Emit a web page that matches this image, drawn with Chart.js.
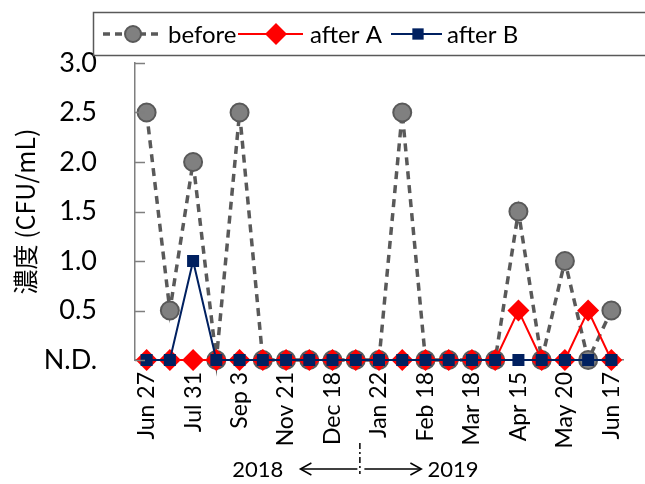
<!DOCTYPE html>
<html>
<head>
<meta charset="utf-8">
<script src="https://cdn.jsdelivr.net/npm/chart.js@4/dist/chart.umd.min.js"></script>
<style>
  html, body { margin: 0; padding: 0; background: #fff; }
  #wrap { width: 645px; height: 484px; position: relative; }
</style>
</head>
<body>
<div id="wrap"><canvas id="c" width="645" height="484"></canvas></div>
<script>
// ---- data ----
const categories = ["Jun 27","","Jul 31","","Sep 3","","Nov 21","","Dec 18","","Jan 22","","Feb 18","","Mar 18","","Apr 15","","May 20","","Jun 17"];
const seriesNames = ["before","after A","after B"];
const beforeValues = [2.5,0.5,2.0,0,2.5,0,0,0,0,0,0,2.5,0,0,0,0,1.5,0,1.0,0,0.5];
const afterAValues = [0,0,0,0,0,0,0,0,0,0,0,0,0,0,0,0,0.5,0,0,0.5,0];
const afterBValues = [0,0,1.0,0,0,0,0,0,0,0,0,0,0,0,0,0,0,0,0,0,0];
const yTickLabels = ["N.D.","0.5","1.0","1.5","2.0","2.5","3.0"];
const yAxisTitle = "濃度 (CFU/mL)";
const yearLabels = ["2018","2019"];

const FONT = "Lato, 'Liberation Sans', sans-serif";
const GREY_LINE = "#595959";
const GREY_FILL = "#808080";
const RED = "#ff0000";
const NAVY = "#002060";

function drawMarker(ctx, style, x, y, r, fill, stroke, bw) {
  ctx.save();
  ctx.beginPath();
  if (style === 'circle') {
    ctx.arc(x, y, r, 0, Math.PI * 2);
  } else if (style === 'rectRot') {
    ctx.moveTo(x - r, y); ctx.lineTo(x, y - r); ctx.lineTo(x + r, y); ctx.lineTo(x, y + r); ctx.closePath();
  } else {
    const s = Math.SQRT1_2 * r;
    ctx.rect(x - s, y - s, 2 * s, 2 * s);
  }
  ctx.fillStyle = fill; ctx.fill();
  if (bw) { ctx.lineWidth = bw; ctx.strokeStyle = stroke; ctx.stroke(); }
  ctx.restore();
}

const extras = {
  id: 'extras',
  afterDraw(chart) {
    const ctx = chart.ctx;
    const y = chart.scales.y;
    const x = chart.scales.x;
    // inward y ticks
    ctx.save();
    ctx.strokeStyle = "#7f7f7f";
    ctx.lineWidth = 1.5;
    for (let i = 0; i < yTickLabels.length; i++) {
      const py = Math.round(y.getPixelForValue(i * 0.5)) + 0.5;
      ctx.beginPath(); ctx.moveTo(y.right, py); ctx.lineTo(y.right + 10, py); ctx.stroke();
    }
    ctx.restore();

    // legend box
    ctx.save();
    ctx.strokeStyle = "#595959";
    ctx.lineWidth = 1.5;
    ctx.strokeRect(93.5, 12.5, 600, 43);
    const ly = 34;
    ctx.font = "24px " + FONT;
    ctx.fillStyle = "#000";
    ctx.textBaseline = "middle";
    // before
    ctx.strokeStyle = GREY_LINE; ctx.lineWidth = 3.5; ctx.setLineDash([7, 5]);
    ctx.beginPath(); ctx.moveTo(103, ly); ctx.lineTo(163, ly); ctx.stroke();
    ctx.setLineDash([]);
    drawMarker(ctx, 'circle', 133, ly, 8, GREY_FILL, GREY_LINE, 2);
    ctx.fillText(seriesNames[0], 168, ly + 1);
    // after A
    ctx.strokeStyle = RED; ctx.lineWidth = 2;
    ctx.beginPath(); ctx.moveTo(238, ly); ctx.lineTo(303, ly); ctx.stroke();
    drawMarker(ctx, 'rectRot', 276, ly, 11, RED, RED, 0);
    ctx.fillText(seriesNames[1], 310, ly + 1);
    // after B
    ctx.strokeStyle = NAVY; ctx.lineWidth = 2;
    ctx.beginPath(); ctx.moveTo(391, ly); ctx.lineTo(442, ly); ctx.stroke();
    drawMarker(ctx, 'rect', 418, ly, 8, NAVY, NAVY, 0);
    ctx.fillText(seriesNames[2], 447, ly + 1);
    ctx.restore();

    // year annotation
    const sepX = (x.getPixelForValue(9) + x.getPixelForValue(10)) / 2 - 8;
    ctx.save();
    ctx.font = "22px " + FONT;
    ctx.fillStyle = "#000";
    ctx.textBaseline = "middle";
    ctx.textAlign = "right";
    ctx.fillText(yearLabels[0], sepX - 76, 470);
    ctx.textAlign = "left";
    ctx.fillText(yearLabels[1], sepX + 68, 470);
    ctx.strokeStyle = "#000"; ctx.lineWidth = 1.5;
    const ay = 469;
    // left arrow
    ctx.beginPath(); ctx.moveTo(sepX - 2, ay); ctx.lineTo(sepX - 58, ay); ctx.stroke();
    ctx.beginPath(); ctx.moveTo(sepX - 48, ay - 6); ctx.lineTo(sepX - 59, ay); ctx.lineTo(sepX - 48, ay + 6); ctx.stroke();
    // right arrow
    ctx.beginPath(); ctx.moveTo(sepX + 5, ay); ctx.lineTo(sepX + 61, ay); ctx.stroke();
    ctx.beginPath(); ctx.moveTo(sepX + 51, ay - 6); ctx.lineTo(sepX + 62, ay); ctx.lineTo(sepX + 51, ay + 6); ctx.stroke();
    // dash-dot separator
    ctx.setLineDash([6, 3, 2, 3]);
    ctx.beginPath(); ctx.moveTo(sepX + 0.5, 443); ctx.lineTo(sepX + 0.5, 474); ctx.stroke();
    ctx.restore();
  }
};

new Chart(document.getElementById('c'), {
  type: 'line',
  data: {
    labels: categories,
    datasets: [
      {
        label: seriesNames[0], data: beforeValues, order: 3, clip: false,
        borderColor: GREY_LINE, borderWidth: 3.5, borderDash: [8, 6],
        pointStyle: 'circle', pointRadius: 9, pointBackgroundColor: GREY_FILL,
        pointBorderColor: GREY_LINE, pointBorderWidth: 2, tension: 0
      },
      {
        label: seriesNames[1], data: afterAValues, order: 2, clip: false,
        borderColor: RED, borderWidth: 2,
        pointStyle: 'rectRot', pointRadius: 11, pointBackgroundColor: RED,
        pointBorderColor: RED, pointBorderWidth: 0, tension: 0
      },
      {
        label: seriesNames[2], data: afterBValues, order: 1, clip: false,
        borderColor: NAVY, borderWidth: 2,
        pointStyle: 'rect', pointRadius: 8.5, pointBackgroundColor: NAVY,
        pointBorderColor: NAVY, pointBorderWidth: 0, tension: 0
      }
    ]
  },
  options: {
    responsive: false,
    animation: false,
    events: [],
    layout: { padding: { top: 63, right: 22, left: 0, bottom: 0 } },
    plugins: { legend: { display: false }, tooltip: { enabled: false } },
    scales: {
      x: {
        offset: true,
        grid: { display: false, drawTicks: false },
        border: { display: true, color: "#7f7f7f", width: 1.5 },
        afterFit(scale) { scale.height = 124; scale.paddingRight = 0; scale.paddingLeft = 0; },
        ticks: {
          autoSkip: false, maxRotation: 90, minRotation: 90, padding: 12,
          color: "#000", font: { family: FONT, size: 23 },
          callback(v, i) { return categories[i]; }
        }
      },
      y: {
        min: 0, max: 3,
        afterFit(scale) { scale.width = 135; },
        afterBuildTicks(scale) { scale.ticks = yTickLabels.map((t, i) => ({ value: i * 0.5 })); },
        grid: { display: false, drawTicks: false },
        border: { display: true, color: "#7f7f7f", width: 1.5 },
        ticks: {
          padding: 38, color: "#000", font: { family: FONT, size: 27 },
          callback(v, i) { return yTickLabels[i]; }
        },
        title: {
          display: true, text: yAxisTitle, color: "#000",
          font: { family: "'Noto Sans CJK JP', " + FONT, size: 25 },
          padding: { top: 10, bottom: 0 }
        }
      }
    }
  },
  plugins: [extras]
});
</script>
</body>
</html>
